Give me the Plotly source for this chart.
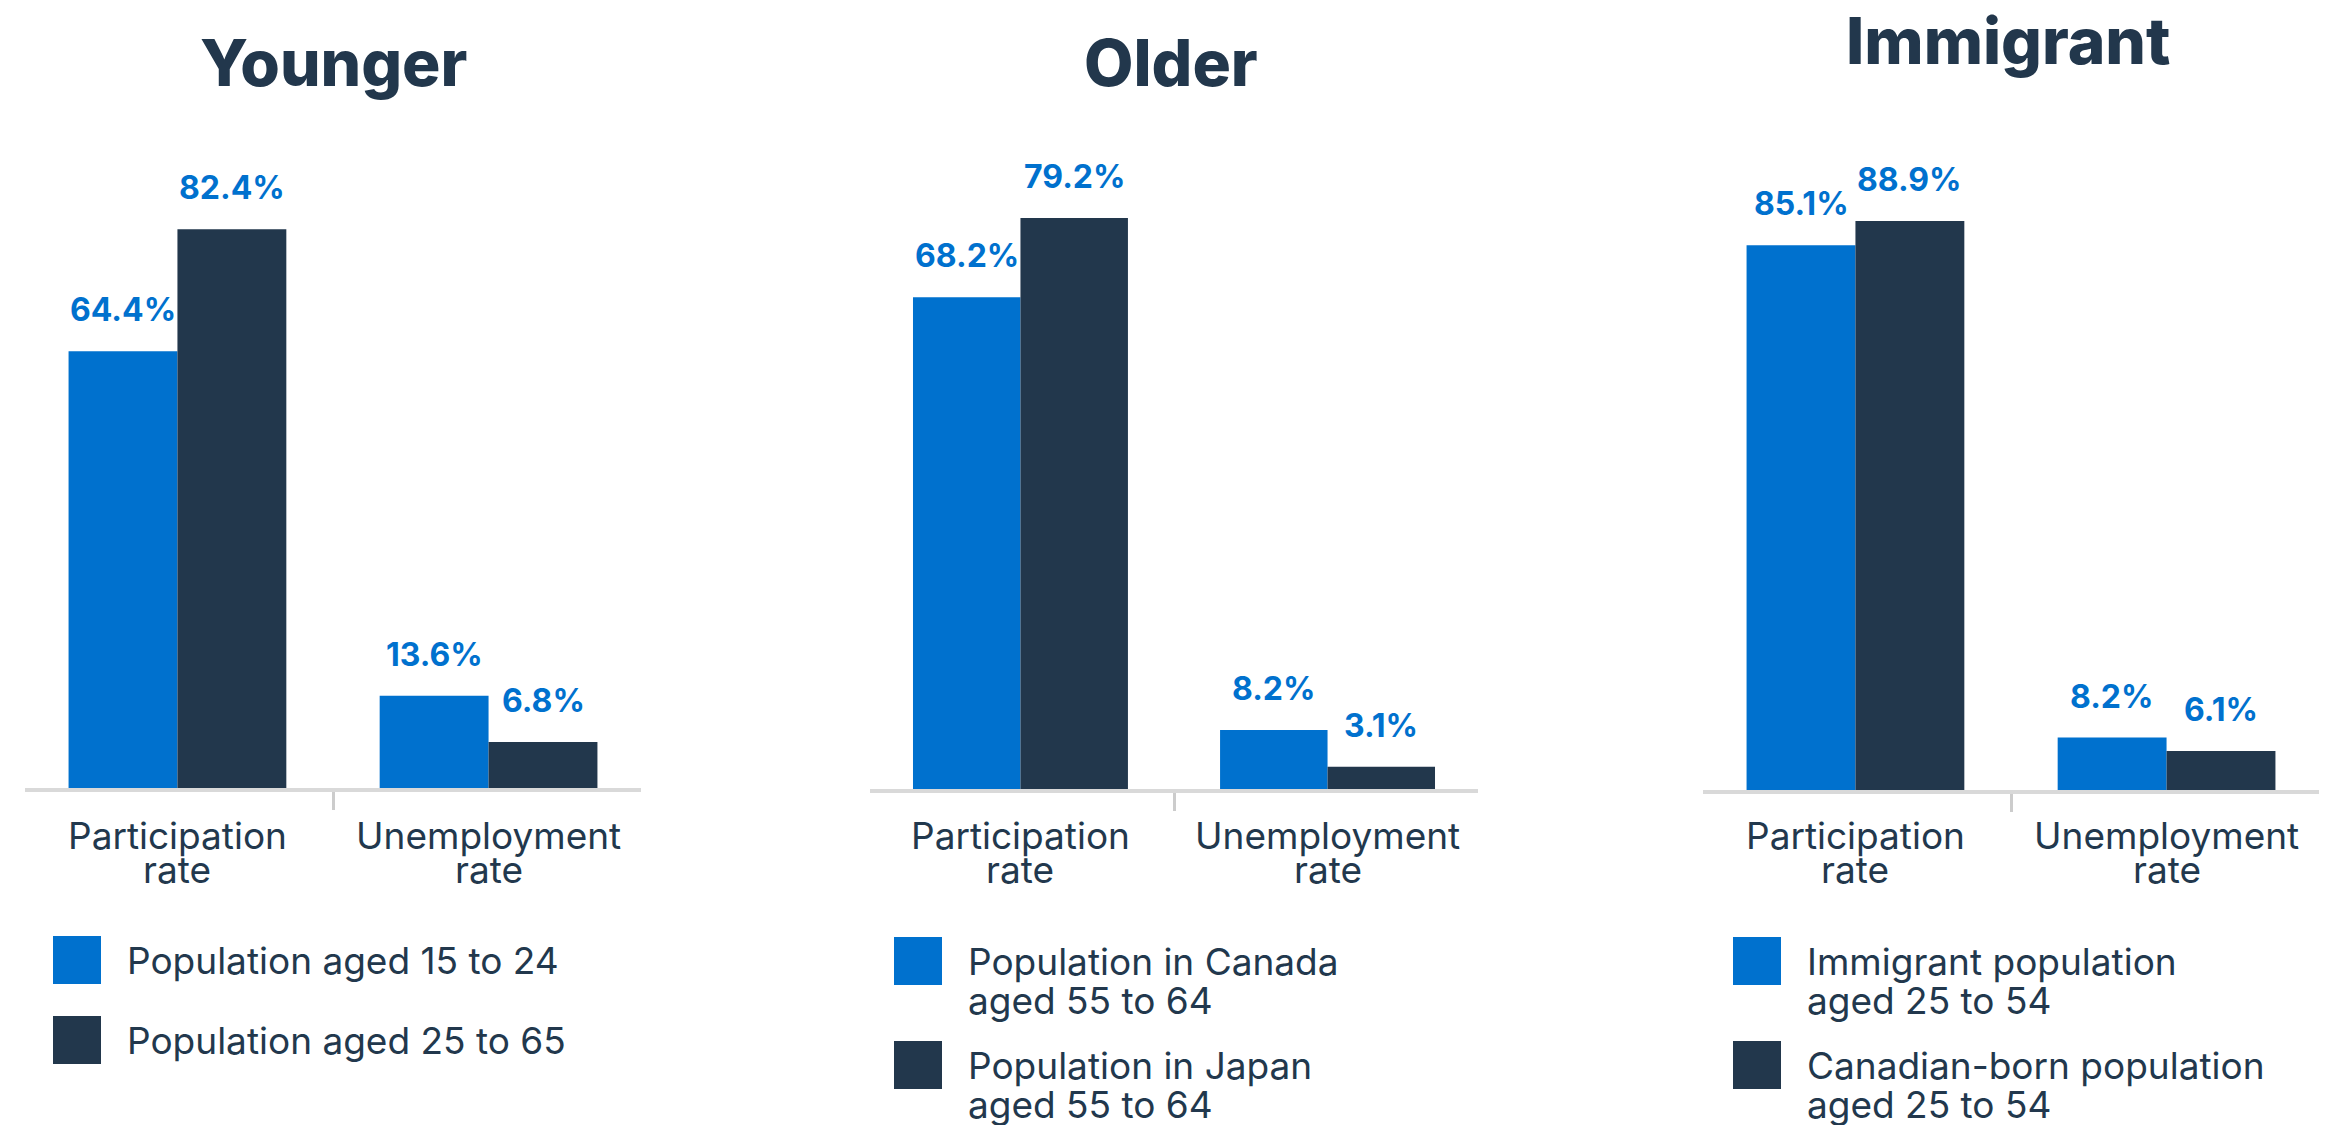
import plotly.graph_objects as go

# ---------------- data ----------------
categories = ["Participation rate", "Unemployment rate"]
category_lines = [["Participation", "rate"], ["Unemployment", "rate"]]
panel_titles = ["Younger", "Older", "Immigrant"]

series_a_names = ["Population aged 15 to 24",
                  "Population in Canada aged 55 to 64",
                  "Immigrant population aged 25 to 54"]
series_b_names = ["Population aged 25 to 65",
                  "Population in Japan aged 55 to 64",
                  "Canadian-born population aged 25 to 54"]
legend_a_lines = [["Population aged 15 to 24"],
                  ["Population in Canada", "aged 55 to 64"],
                  ["Immigrant population", "aged 25 to 54"]]
legend_b_lines = [["Population aged 25 to 65"],
                  ["Population in Japan", "aged 55 to 64"],
                  ["Canadian-born population", "aged 25 to 54"]]

younger_a = [64.4, 13.6]
younger_b = [82.4, 6.8]
older_a = [68.2, 8.2]
older_b = [79.2, 3.1]
immigrant_a = [85.1, 8.2]
immigrant_b = [88.9, 6.1]

values_a = [younger_a, older_a, immigrant_a]
values_b = [younger_b, older_b, immigrant_b]

# ---------------- style ----------------
W, H = 2325, 1125
BLUE = "#0071CE"
NAVY = "#22374C"
TEXT = "#22384D"
FONT = "Inter"
BARGAP = 0.30

x_dom_px = [(25, 641), (870, 1478), (1703, 2319)]
y_bottom_px = [788, 789, 790]
y_top_px = 150
px_per_pct = [6.78, 7.21, 6.40]
title_cy_px = [62, 62, 40]
title_cx_px = [333, 1171, 2008]
legend_x_px = [53, 894, 1733]
legend_sq_top_px = [[936, 1016], [937, 1041], [937, 1041]]
SQ = 48
LINE_H = 39
CAT_LINE_H = 33


def px(x):
    return x / W


def py(y):
    return 1 - y / H


fig = go.Figure()
annotations = []
shapes = []

for i in range(3):
    xa = "x" if i == 0 else f"x{i+1}"
    ya = "y" if i == 0 else f"y{i+1}"
    xkey = "xaxis" if i == 0 else f"xaxis{i+1}"
    ykey = "yaxis" if i == 0 else f"yaxis{i+1}"

    fig.add_trace(go.Bar(x=categories, y=values_a[i], name=series_a_names[i],
                         marker=dict(color=BLUE, line=dict(width=0)),
                         xaxis=xa, yaxis=ya, showlegend=False,
                         offsetgroup="a", hoverinfo="skip"))
    fig.add_trace(go.Bar(x=categories, y=values_b[i], name=series_b_names[i],
                         marker=dict(color=NAVY, line=dict(width=0)),
                         xaxis=xa, yaxis=ya, showlegend=False,
                         offsetgroup="b", hoverinfo="skip"))

    yr = (y_bottom_px[i] - y_top_px) / px_per_pct[i]
    fig.update_layout({
        xkey: dict(domain=[px(x_dom_px[i][0]), px(x_dom_px[i][1])],
                   anchor=ya, type="category", range=[-0.49, 1.49],
                   showline=True, linecolor="#D9D9D9", linewidth=4,
                   ticks="outside", tickson="boundaries", ticklen=18,
                   tickwidth=3, tickcolor="#CCCCCC", showticklabels=False,
                   showgrid=False, zeroline=False, fixedrange=True),
        ykey: dict(domain=[py(y_bottom_px[i]), py(y_top_px)], anchor=xa,
                   range=[0, yr], visible=False, showgrid=False,
                   zeroline=False, fixedrange=True),
    })

    # value labels above each bar
    half = (1 - BARGAP) / 4
    for j in range(len(categories)):
        for vals, sign in ((values_a[i], -1), (values_b[i], 1)):
            annotations.append(dict(
                x=j + sign * half, y=vals[j], xref=xa, yref=ya,
                text=f"<b>{vals[j]:.1f}%</b>", showarrow=False,
                xanchor="center", yanchor="bottom", yshift=20,
                font=dict(family=FONT, size=32, color=BLUE)))

    # category labels (two lines)
    for j, lines in enumerate(category_lines):
        for k, line in enumerate(lines):
            annotations.append(dict(
                x=j, y=py(836 + k * CAT_LINE_H), xref=xa, yref="paper",
                text=line, showarrow=False, xanchor="center",
                yanchor="middle",
                font=dict(family=FONT, size=37, color=TEXT)))

    # panel title
    annotations.append(dict(
        x=px(title_cx_px[i]), y=py(title_cy_px[i]), xref="paper",
        yref="paper", text=panel_titles[i], showarrow=False,
        xanchor="center", yanchor="middle",
        font=dict(family=FONT, size=64, color=NAVY, weight=800)))

    # legend
    for e, (color, lines) in enumerate(((BLUE, legend_a_lines[i]),
                                        (NAVY, legend_b_lines[i]))):
        top = legend_sq_top_px[i][e]
        shapes.append(dict(type="rect", xref="paper", yref="paper",
                           x0=px(legend_x_px[i]), x1=px(legend_x_px[i] + SQ),
                           y0=py(top + SQ), y1=py(top),
                           fillcolor=color, line=dict(width=0)))
        for k, line in enumerate(lines):
            annotations.append(dict(
                x=px(legend_x_px[i] + SQ + 24), y=py(top + SQ / 2 + k * LINE_H),
                xref="paper", yref="paper", text=line, showarrow=False,
                xanchor="left", yanchor="middle",
                font=dict(family=FONT, size=37, color=TEXT)))

fig.update_layout(
    width=W, height=H,
    margin=dict(l=0, r=0, t=0, b=0),
    paper_bgcolor="white", plot_bgcolor="white",
    barmode="group", bargap=BARGAP, bargroupgap=0,
    showlegend=False,
    annotations=annotations, shapes=shapes,
    font=dict(family=FONT, color=TEXT),
)

fig.write_html(
    "out.html",
    config={"displayModeBar": False},
    post_script="document.body.style.margin='0px';"
                "document.body.style.overflow='hidden';",
)
